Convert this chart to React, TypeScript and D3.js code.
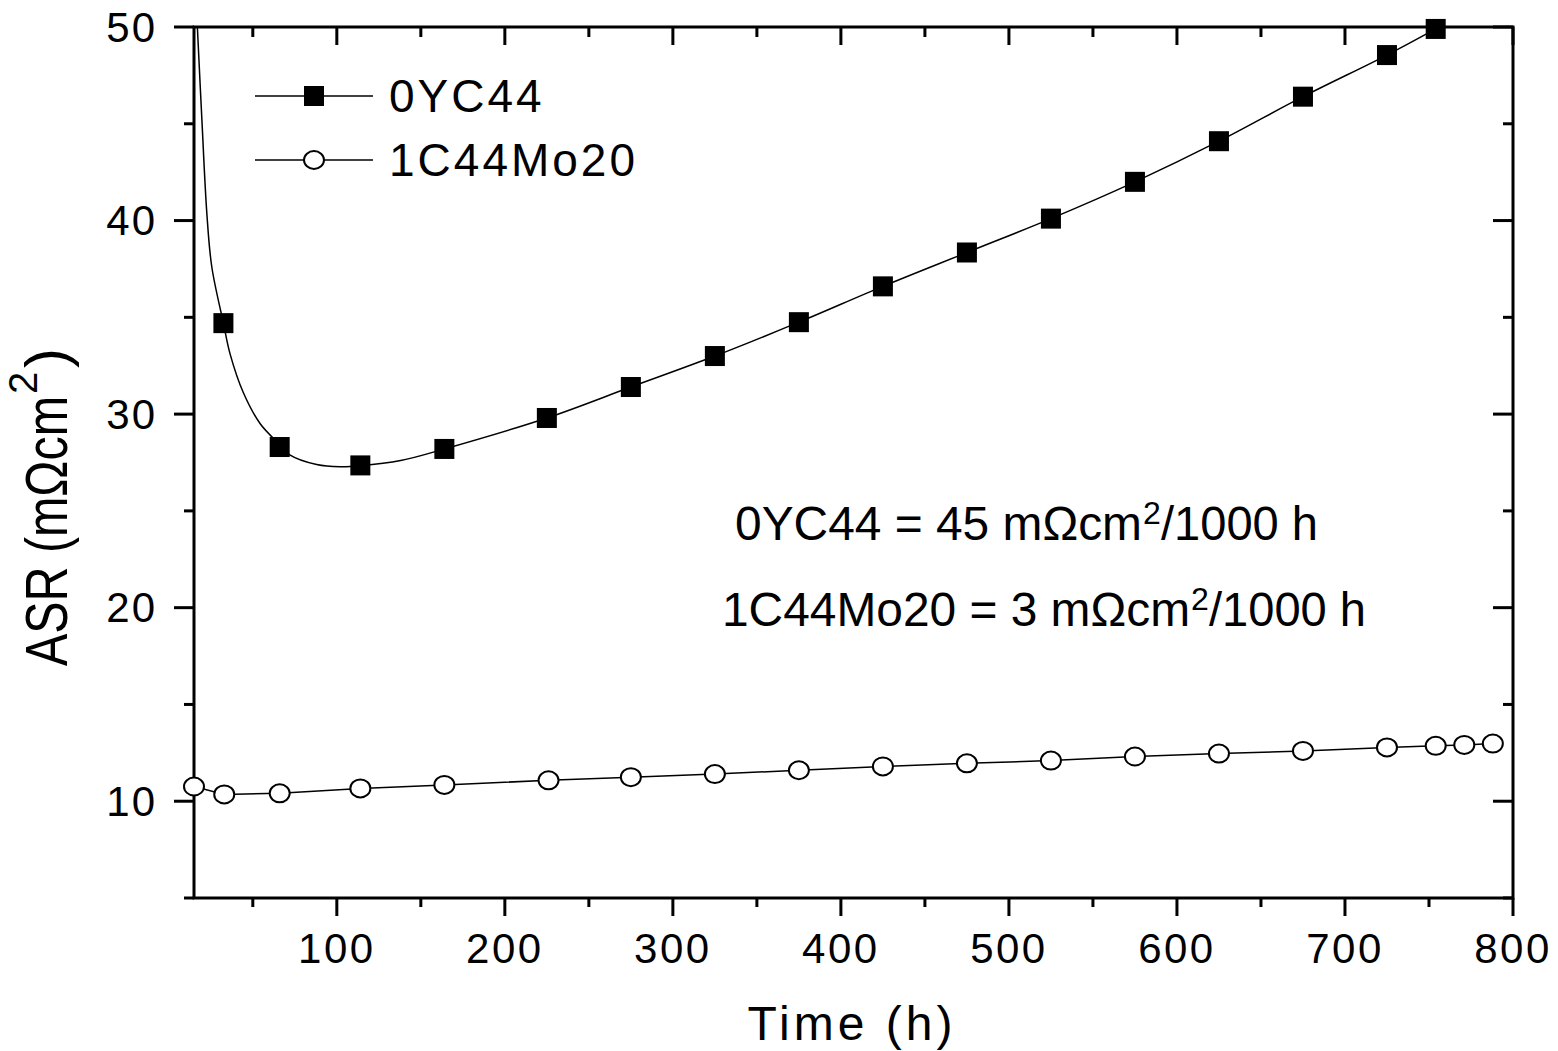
import React from "react";
import * as d3 from "d3";

// ---- data ----
const time0YC44 = [32.5, 66, 114, 164, 225, 275, 325, 375, 425, 475, 525, 575, 625, 675, 725, 754];
const asr0YC44 = [34.7, 28.3, 27.35, 28.2, 29.8, 31.4, 33.0, 34.75, 36.6, 38.35, 40.1, 42.0, 44.1, 46.4, 48.55, 49.9];

// fitted curve drawn through the 0YC44 data
const fitTime0YC44 = [16.3, 17, 19.7, 22.7, 25.6, 32.5, 36.5, 44.4, 54.4, 66.3, 72, 88, 102, 114, 138, 164, 225, 275, 325, 375, 425, 475, 525, 575, 625, 675, 725, 754];
const fitAsr0YC44 = [51.3, 50, 45.2, 40.3, 37.6, 34.7, 33.1, 31.1, 29.5, 28.4, 27.9, 27.4, 27.28, 27.33, 27.6, 28.2, 29.8, 31.4, 33.0, 34.75, 36.6, 38.35, 40.1, 42.0, 44.1, 46.4, 48.55, 49.9];

const time1C44Mo20 = [15, 33, 66, 114, 164, 226, 275, 325, 375, 425, 475, 525, 575, 625, 675, 725, 754, 771, 788];
const asr1C44Mo20 = [10.76, 10.35, 10.41, 10.66, 10.84, 11.08, 11.24, 11.4, 11.6, 11.8, 11.96, 12.1, 12.31, 12.46, 12.6, 12.78, 12.86, 12.91, 12.98];

const xMajorTicks = [100, 200, 300, 400, 500, 600, 700, 800];
const xMinorTicks = [50, 150, 250, 350, 450, 550, 650, 750];
const yMajorTicks = [10, 20, 30, 40, 50];
const yMinorTicks = [5, 15, 25, 35, 45];

const seriesNames = ["0YC44", "1C44Mo20"];
const xTitle = "Time (h)";
const rateTexts = ["0YC44 = 45 mΩcm", "1C44Mo20 = 3 mΩcm"];
const rateUnit = "/1000 h";

const FONT = "'Liberation Sans', Arial, Helvetica, sans-serif";

export default function App() {
  const W = 1558, H = 1051;
  const L = 194, R = 1513, T = 27, B = 898;
  const x = d3.scaleLinear().domain([15, 800]).range([L, R]);
  const y = d3.scaleLinear().domain([5, 50]).range([B, T]);

  const fitPts: [number, number][] = fitTime0YC44.map((t, i) => [t, fitAsr0YC44[i]]);
  const sqPts: [number, number][] = time0YC44.map((t, i) => [t, asr0YC44[i]]);
  const cPts: [number, number][] = time1C44Mo20.map((t, i) => [t, asr1C44Mo20[i]]);

  const fitLine = d3.line<[number, number]>().x(d => x(d[0])).y(d => y(d[1])).curve(d3.curveCatmullRom.alpha(0.5));
  const linLine = d3.line<[number, number]>().x(d => x(d[0])).y(d => y(d[1]));

  const tickW = 3;
  const sq = 20;

  // annotation layout (Arial metrics at 48px)
  const annot = [
    { x0: 735, y0: 540, w: 407 },
    { x0: 722, y0: 626, w: 468 },
  ];

  return (
    <svg width={W} height={H} style={{ position: "absolute", left: 0, top: 0, background: "#fff" }} fontFamily={FONT}>
      <defs>
        <clipPath id="plotclip">
          <rect x={L} y={T} width={R - L} height={B - T} />
        </clipPath>
      </defs>
      <rect x={0} y={0} width={W} height={H} fill="#fff" />

      {/* frame */}
      <rect x={L} y={T} width={R - L} height={B - T} fill="none" stroke="#000" strokeWidth={3} />

      {/* x ticks: bottom outward, top inward */}
      {xMajorTicks.map(v => (
        <g key={"xM" + v}>
          <line x1={x(v)} x2={x(v)} y1={B} y2={B + 18} stroke="#000" strokeWidth={tickW} />
          <line x1={x(v)} x2={x(v)} y1={T} y2={T + 18} stroke="#000" strokeWidth={tickW} />
          <text x={x(v)} y={963} textAnchor="middle" fontSize={42} letterSpacing={2.5}>{v}</text>
        </g>
      ))}
      {xMinorTicks.map(v => (
        <g key={"xm" + v}>
          <line x1={x(v)} x2={x(v)} y1={B} y2={B + 9} stroke="#000" strokeWidth={tickW} />
          <line x1={x(v)} x2={x(v)} y1={T} y2={T + 10} stroke="#000" strokeWidth={tickW} />
        </g>
      ))}

      {/* y ticks: left outward, right inward */}
      {yMajorTicks.map(v => (
        <g key={"yM" + v}>
          <line x1={L - 20} x2={L} y1={y(v)} y2={y(v)} stroke="#000" strokeWidth={tickW} />
          <line x1={R - 20} x2={R} y1={y(v)} y2={y(v)} stroke="#000" strokeWidth={tickW} />
          <text x={157} y={y(v)} textAnchor="end" dominantBaseline="central" fontSize={42} letterSpacing={2}>{v}</text>
        </g>
      ))}
      {yMinorTicks.map(v => (
        <g key={"ym" + v}>
          <line x1={L - 10} x2={L} y1={y(v)} y2={y(v)} stroke="#000" strokeWidth={tickW} />
          <line x1={R - 10} x2={R} y1={y(v)} y2={y(v)} stroke="#000" strokeWidth={tickW} />
        </g>
      ))}

      {/* axis titles */}
      <text x={852} y={1040} textAnchor="middle" fontSize={48} letterSpacing={4}>{xTitle}</text>
      <g transform="translate(67,506) rotate(-90)">
        <text x={-160} y={0} fontSize={60} textLength={270} lengthAdjust="spacingAndGlyphs">ASR (mΩcm</text>
        <text x={112} y={-30} fontSize={40}>2</text>
        <text x={138} y={0} fontSize={60} textLength={20} lengthAdjust="spacingAndGlyphs">)</text>
      </g>

      {/* lines */}
      <g clipPath="url(#plotclip)">
        <path d={fitLine(fitPts) || ""} fill="none" stroke="#000" strokeWidth={1.5} />
        <path d={linLine(cPts) || ""} fill="none" stroke="#000" strokeWidth={1.5} />
      </g>

      {/* markers */}
      {sqPts.map((p, i) => (
        <rect key={"s" + i} x={x(p[0]) - sq / 2} y={y(p[1]) - sq / 2} width={sq} height={sq} fill="#000" />
      ))}
      {cPts.map((p, i) => (
        <ellipse key={"c" + i} cx={x(p[0])} cy={y(p[1])} rx={10} ry={9} fill="#fff" stroke="#000" strokeWidth={2} />
      ))}

      {/* legend */}
      <line x1={255} x2={373} y1={96} y2={96} stroke="#000" strokeWidth={1.5} />
      <rect x={314 - sq / 2} y={96 - sq / 2} width={sq} height={sq} fill="#000" />
      <text x={389} y={112} fontSize={46} letterSpacing={3}>{seriesNames[0]}</text>
      <line x1={255} x2={373} y1={160} y2={160} stroke="#000" strokeWidth={1.5} />
      <ellipse cx={314} cy={160} rx={10} ry={9} fill="#fff" stroke="#000" strokeWidth={2} />
      <text x={389} y={176} fontSize={46} letterSpacing={3}>{seriesNames[1]}</text>

      {/* annotations */}
      {annot.map((a, i) => (
        <g key={"an" + i}>
          <text x={a.x0} y={a.y0} fontSize={48} textLength={a.w} lengthAdjust="spacingAndGlyphs">{rateTexts[i]}</text>
          <text x={a.x0 + a.w + 1} y={a.y0 - 16} fontSize={32}>2</text>
          <text x={a.x0 + a.w + 19} y={a.y0} fontSize={48} textLength={157} lengthAdjust="spacingAndGlyphs">{rateUnit}</text>
        </g>
      ))}
    </svg>
  );
}
